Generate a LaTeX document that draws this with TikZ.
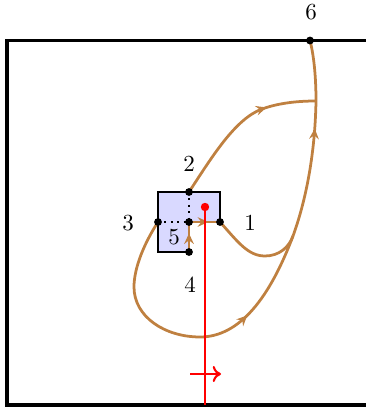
\documentclass[tikz,border=0pt]{standalone}
\usetikzlibrary{arrows.meta,decorations.markings}
\definecolor{orbit}{rgb}{0.75,0.5,0.25}
\definecolor{cellfill}{rgb}{0.85,0.85,1}
\tikzset{
  orb/.style={draw=orbit,line width=1.2pt},
  midarrow/.style={postaction={decorate},decoration={markings,
    mark=at position #1 with {\arrow[orbit]{Stealth[length=4.6pt,width=4.2pt,inset=1.6pt]}}}},
  pt/.style={circle,fill=black,inner sep=0pt,minimum size=3.4pt},
  lbl/.style={font=\normalsize,inner sep=0pt},
  dotline/.style={draw=black,dotted,line width=0.8pt},
}
\begin{document}
\begin{tikzpicture}[x=0.435pt,y=0.435pt]
\useasboundingbox (0,0) rectangle (366,412);
% outer frame (right side lies beyond the picture)
\draw[line width=1.6pt] (366,371.5) -- (7,371.5) -- (7,7) -- (366,7);
% points
\coordinate (P1) at (220,190);
\coordinate (P2) at (189,220);
\coordinate (P3) at (158,190);
\coordinate (P4) at (189,160);
\coordinate (C)  at (189,190);
\coordinate (P6) at (310,371.5);
\coordinate (J)  at (316,311);
\coordinate (M)  at (293,176);
\coordinate (R)  at (205,205);
\coordinate (Rb) at (205,7);
\coordinate (Ra) at (190,38);
\coordinate (Rc) at (221,38);
% cell
\filldraw[fill=cellfill,draw=black,line width=0.8pt]
  (158,220) -- (220,220) -- (P1) -- (C) -- (P4) -- (158,160) -- cycle;
\draw[dotline] (P2) -- (C);
\draw[dotline] (P3) -- (C);
% orbits
\draw[orb,midarrow=0.62] (C) -- (P1);
\draw[orb,midarrow=0.62] (P4) -- (C);
\draw[orb,midarrow=0.7] (P2) .. controls (212,255) and (235,293) .. (262,303)
  .. controls (280,309.5) and (300,311) .. (J);
\draw[orb] (J) .. controls (316,340) and (313,360) .. (P6);
\draw[orb] (P1) .. controls (238,170) and (248,156) .. (265,156)
  .. controls (279,156) and (289,164.7) .. (M);
\draw[orb,midarrow=0.7] (P3) .. controls (145,170) and (134,145) .. (134,125)
  .. controls (134,95) and (165,75) .. (200,75)
  .. controls (240,75) and (270,115) .. (M);
\draw[orb,midarrow=0.8] (M) .. controls (305,209) and (315,255) .. (J);
% red line
\draw[red,line width=0.9pt] (R) -- (Rb);
\draw[red,line width=0.9pt,-{To[length=3.6pt,width=7pt]}] (Ra) -- (Rc);
\fill[red] (R) circle (4.2);
% dots
\foreach \p in {P1,P2,P3,P4,C,P6} \node[pt] at (\p) {};
% labels
\node[lbl] (L1) at (250,189) {1};
\node[lbl] (L2) at (189,248) {2};
\node[lbl] (L3) at (128,189) {3};
\node[lbl] (L4) at (190,127) {4};
\node[lbl] (L5) at (174,175) {5};
\node[lbl] (L6) at (311,400) {6};
\end{tikzpicture}
\end{document}
